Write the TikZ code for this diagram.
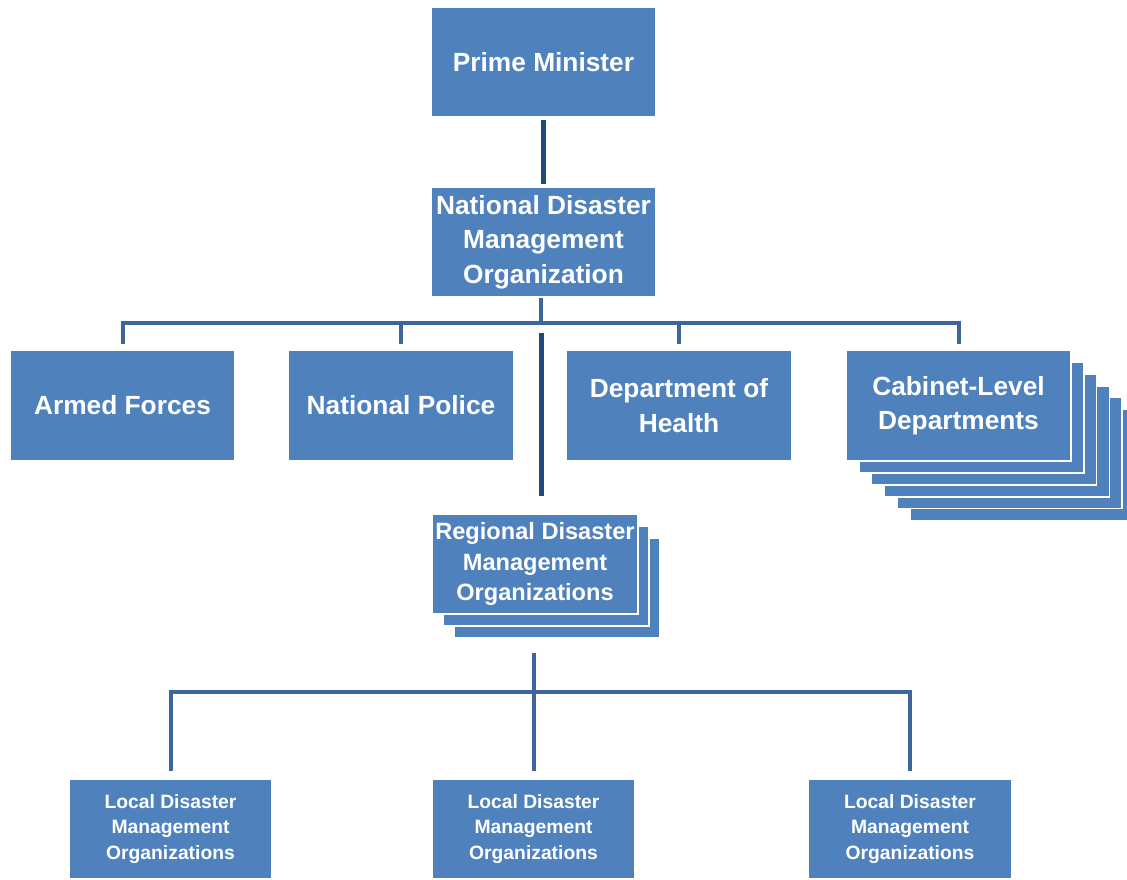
\documentclass[tikz,border=0pt]{standalone}
\usepackage{fontspec}
\setmainfont{Liberation Sans}
\usetikzlibrary{calc}
\definecolor{boxblue}{HTML}{4F81BD}
\definecolor{linenavy}{HTML}{1F497D}
\definecolor{lineblue}{HTML}{3E6699}
\tikzset{
	orgbox/.style={fill=boxblue, draw=white, line width=1.2pt, text=white, align=center, inner sep=0pt},
	layerbox/.style={fill=boxblue, draw=white, line width=1.6pt},
	bigtext/.style={font=\fontsize{26.3}{34.5}\selectfont\bfseries},
	midtext/.style={font=\fontsize{23.6}{30.5}\selectfont\bfseries},
	smalltext/.style={font=\fontsize{19.3}{25.5}\selectfont\bfseries},
	trunk/.style={draw=linenavy, line width=5pt},
	bus/.style={draw=lineblue, line width=4pt}
}

\begin{document}
\begin{tikzpicture}[x=1pt, y=-1pt]
		%%%%% START %%%%%
		\clip (0, 0) rectangle (1127, 879);
		
		% stacked sheets behind the grouped boxes
		\foreach \k in {5,4,...,1}
			\draw[layerbox] (846+12.8*\k, 350+11.9*\k) rectangle (1071+12.8*\k, 461+11.9*\k);
		\foreach \k in {2,1}
			\draw[layerbox] (432+11*\k, 514+12*\k) rectangle (638+11*\k, 614+12*\k);
		
		\node[orgbox, bigtext, minimum width=225pt, minimum height=110pt] (pm) at (543.5, 62) {Prime Minister};
		\node[orgbox, bigtext, minimum width=225pt, minimum height=110pt] (ndmo) at (543.5, 242) {National Disaster\\Management\\Organization};
		
		\node[orgbox, bigtext, minimum width=225pt, minimum height=111pt] (armed) at (122.5, 405.5) {Armed Forces};
		\node[orgbox, bigtext, minimum width=225pt, minimum height=111pt] (police) at (401, 405.5) {National Police};
		\node[orgbox, bigtext, minimum width=225pt, minimum height=111pt] (health) at (679, 405.5) {Department of\\Health};
		\node[orgbox, bigtext, minimum width=225pt, minimum height=111pt] (cab) at (958.5, 405.5) {Cabinet-Level\\Departments};
		
		\node[orgbox, midtext, minimum width=206pt, minimum height=100pt] (regional) at (535, 564) {Regional Disaster\\Management\\Organizations};
		
		\node[orgbox, smalltext, minimum width=203pt, minimum height=100pt] (localA) at (170.5, 829) {Local Disaster\\Management\\Organizations};
		\node[orgbox, smalltext, minimum width=203pt, minimum height=100pt] (localB) at (533.5, 829) {Local Disaster\\Management\\Organizations};
		\node[orgbox, smalltext, minimum width=203pt, minimum height=100pt] (localC) at (910, 829) {Local Disaster\\Management\\Organizations};
		
		% connectors
		\coordinate (busA) at (541, 323);
		\coordinate (busB) at (533.5, 692);
		\draw[trunk, shorten <=2pt, shorten >=2pt] (pm.south) -- (ndmo.north);
		\draw[bus] ([xshift=-2.5pt]ndmo.south) -- (busA);
		\draw[bus] ([yshift=5pt]armed.north) |- (busA) -| ([yshift=5pt]cab.north);
		\draw[bus] ([yshift=5pt]police.north) -- (police.north |- busA);
		\draw[bus] ([yshift=5pt]health.north) -- (health.north |- busA);
		\draw[trunk] ([yshift=-10pt]busA) -- ([yshift=17pt]busA |- regional.north);
		
		\draw[bus] ([yshift=-38pt]busB |- regional.south) -- ([yshift=7pt]localB.north);
		\draw[bus] ([yshift=7pt]localA.north) |- (busB) -| ([yshift=7pt]localC.north);
		%%%%% END %%%%%
	\end{tikzpicture}
\end{document}
